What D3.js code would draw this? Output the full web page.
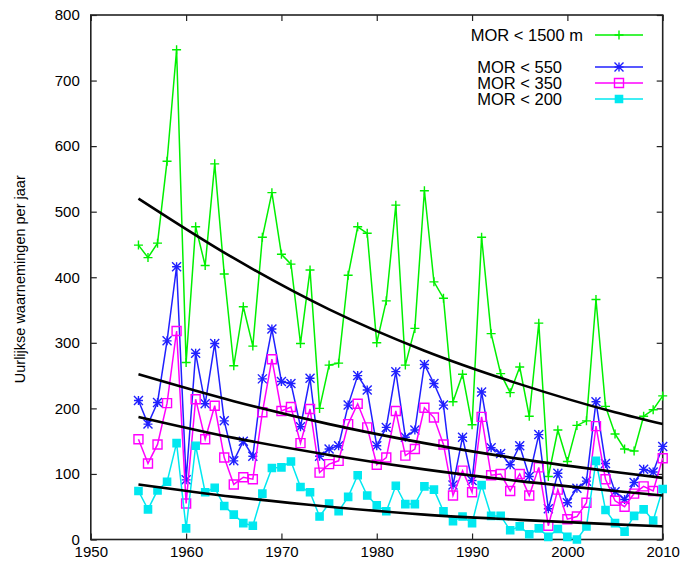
<!DOCTYPE html>
<html>
<head>
<meta charset="utf-8">
<script src="https://cdn.jsdelivr.net/npm/d3@7"></script>
<style>
  body { margin: 0; background: #fff; }
  text { font-family: "Liberation Sans", Arial, sans-serif; }
</style>
</head>
<body>
<div id="chart"></div>
<script>
const years = d3.range(1955, 2011);

const mor1500 = [449, 430, 452, 577, 747, 270, 477, 418, 573, 405,
                 265, 355, 295, 461, 529, 435, 420, 299, 411, 200,
                 266, 269, 403, 477, 467, 300, 364, 510, 266, 322,
                 532, 393, 368, 210, 252, 175, 461, 314, 253, 224,
                 263, 188, 330, 96, 167, 119, 174, 181, 366, 203,
                 161, 138, 135, 188, 198, 219];
const mor550 = [212, 176, 209, 303, 416, 91, 284, 207, 299, 181,
                120, 150, 127, 245, 321, 241, 238, 172, 246, 127,
                138, 143, 205, 250, 228, 143, 171, 256, 156, 167,
                267, 238, 205, 83, 156, 90, 225, 140, 131, 114,
                143, 96, 160, 47, 101, 56, 78, 89, 210, 116,
                73, 61, 87, 107, 103, 142];
const mor350 = [153, 116, 145, 208, 318, 55, 214, 153, 204, 125,
                84, 95, 92, 194, 275, 196, 202, 147, 199, 102,
                115, 120, 176, 207, 171, 114, 125, 196, 128, 138,
                201, 186, 145, 67, 105, 72, 187, 98, 100, 74,
                100, 67, 110, 21, 76, 31, 35, 56, 173, 92,
                59, 50, 70, 81, 74, 124];
const mor200 = [74, 46, 75, 88, 147, 17, 143, 72, 79, 51,
                38, 25, 21, 70, 109, 110, 119, 80, 72, 35,
                55, 43, 65, 98, 67, 52, 43, 82, 54, 54,
                81, 76, 43, 28, 35, 25, 83, 36, 36, 14,
                20, 8, 17, 4, 16, 4, 0, 20, 120, 45,
                25, 12, 36, 46, 29, 77];

// trend curves
const trendYears = [1955, 1965, 1975, 1985, 1995, 2005, 2010];
const trend1500 = [520, 429, 351, 288, 237, 194, 176];
const trend550 = [252, 211, 176, 147, 123, 103, 94];
const trend350 = [187, 155, 129, 107, 89, 74, 67];
const trend200 = [84, 65, 50, 38, 30, 23, 20];

const xTicks = [1950, 1960, 1970, 1980, 1990, 2000, 2010];
const yTicks = [0, 100, 200, 300, 400, 500, 600, 700, 800];

const W = 683, H = 563;
const margin = {top: 15, right: 20.3, bottom: 23.5, left: 90.8};
const width = W - margin.left - margin.right;
const height = H - margin.top - margin.bottom;

const svg = d3.select("#chart").append("svg")
    .attr("width", W).attr("height", H);
const g = svg.append("g")
    .attr("transform", `translate(${margin.left},${margin.top})`);

const x = d3.scaleLinear().domain([1950, 2010]).range([0, width]);
const y = d3.scaleLinear().domain([0, 800]).range([height, 0]);

// axes, gnuplot style: ticks inward on all four sides
const tick = 6;
g.append("g").attr("transform", `translate(0,${height})`)
  .call(d3.axisBottom(x).tickValues(xTicks).tickFormat(d3.format("d")).tickSize(-tick).tickPadding(tick + 1))
  .call(a => a.select(".domain").remove());
g.append("g").attr("transform", `translate(0,0)`)
  .call(d3.axisTop(x).tickValues(xTicks).tickSize(-tick).tickFormat(""))
  .call(a => a.select(".domain").remove());
g.append("g")
  .call(d3.axisLeft(y).tickValues(yTicks).tickSize(-tick).tickPadding(tick + 5))
  .call(a => a.select(".domain").remove());
g.append("g").attr("transform", `translate(${width},0)`)
  .call(d3.axisRight(y).tickValues(yTicks).tickSize(-tick).tickFormat(""))
  .call(a => a.select(".domain").remove());

g.selectAll(".tick line").attr("stroke", "#222").attr("stroke-width", 1.2);
g.selectAll(".tick text").attr("font-size", 15).attr("fill", "#000")
  .attr("font-family", "Liberation Sans, Arial, sans-serif");

g.append("rect")
  .attr("width", width).attr("height", height)
  .attr("fill", "none").attr("stroke", "#222").attr("stroke-width", 1.6);

svg.append("text")
  .attr("transform", `translate(25,${margin.top + height / 2 + 2}) rotate(-90)`)
  .attr("text-anchor", "middle")
  .attr("font-size", 14.5)
  .text("Uurlijkse waarnemingen per jaar");

// marker shapes
const s = 4.5, f = 3.6;
const markers = {
  plus: `M${-s},0H${s}M0,${-s}V${s}`,
  star: `M${-s},0H${s}M0,${-s}V${s}M${-s},${-s}L${s},${s}M${-s},${s}L${s},${-s}`,
  box: `M${-s},${-s}H${s}V${s}H${-s}Z`,
  fbox: `M${-f},${-f}H${f}V${f}H${-f}Z`
};

const series = [
  {name: "MOR < 1500 m", values: mor1500, color: "#00f000", marker: "plus", ly: 35, lx: 583},
  {name: "MOR < 550", values: mor550, color: "#2020ff", marker: "star", ly: 67, lx: 562},
  {name: "MOR < 350", values: mor350, color: "#ff00ff", marker: "box", ly: 83, lx: 562},
  {name: "MOR < 200", values: mor200, color: "#00e8f0", marker: "fbox", ly: 99, lx: 562}
];

const line = d3.line().x(d => x(d[0])).y(d => y(d[1]));

series.forEach(sr => {
  const pts = years.map((yr, i) => [yr, sr.values[i]]);
  g.append("path").datum(pts)
    .attr("fill", "none").attr("stroke", sr.color).attr("stroke-width", 1.5)
    .attr("d", line);
  g.selectAll(null).data(pts).enter().append("path")
    .attr("transform", d => `translate(${x(d[0])},${y(d[1])})`)
    .attr("d", markers[sr.marker])
    .attr("fill", sr.marker === "fbox" ? sr.color : "none")
    .attr("stroke", sr.color).attr("stroke-width", 1.4);
});

const trendLine = d3.line().curve(d3.curveMonotoneX).x(d => x(d[0])).y(d => y(d[1]));
[trend1500, trend550, trend350, trend200].forEach(t => {
  g.append("path").datum(trendYears.map((yr, i) => [yr, t[i]]))
    .attr("fill", "none").attr("stroke", "#000").attr("stroke-width", 2.6)
    .attr("d", trendLine);
});

// legend
const legend = svg.append("g");
series.forEach(sr => {
  legend.append("text")
    .attr("x", sr.lx).attr("y", sr.ly).attr("dy", "0.35em")
    .attr("text-anchor", "end").attr("font-size", 16.5)
    .text(sr.name);
  legend.append("line")
    .attr("x1", 595).attr("x2", 643).attr("y1", sr.ly).attr("y2", sr.ly)
    .attr("stroke", sr.color).attr("stroke-width", 1.5);
  legend.append("path")
    .attr("transform", `translate(619,${sr.ly})`)
    .attr("d", markers[sr.marker])
    .attr("fill", sr.marker === "fbox" ? sr.color : "none")
    .attr("stroke", sr.color).attr("stroke-width", 1.4);
});
</script>
</body>
</html>
